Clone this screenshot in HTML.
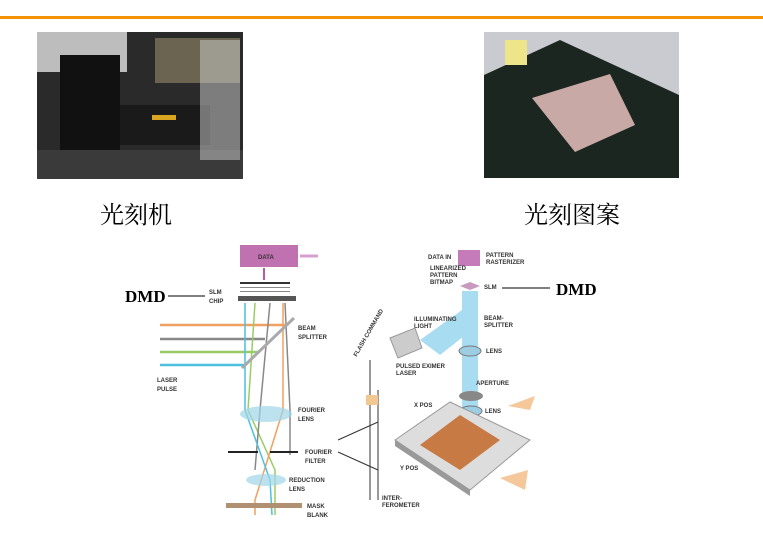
<!DOCTYPE html>
<html><head><meta charset="utf-8"><style>
html,body{margin:0;padding:0;background:#fff;width:763px;height:557px;overflow:hidden}
svg{display:block}
.t{font-family:"Liberation Sans",sans-serif;font-size:6px;font-weight:bold;fill:#333}
.c{font-family:"Liberation Serif","Noto Serif CJK SC",serif;font-size:24px;fill:#000}
.d{font-family:"Liberation Serif",serif;font-size:17px;font-weight:bold;fill:#000}
</style></head><body>
<svg width="763" height="557" viewBox="0 0 763 557" xmlns="http://www.w3.org/2000/svg">
<rect x="0" y="16" width="763" height="3" fill="#f39200"/>
<!-- left photo -->
<rect x="37" y="32" width="206" height="147" fill="#2a2a2a"/>
<rect x="37" y="32" width="90" height="40" fill="#bdbdbd"/>
<rect x="155" y="38" width="85" height="45" fill="#6b6450"/>
<rect x="60" y="55" width="60" height="110" fill="#111"/>
<rect x="120" y="105" width="90" height="40" fill="#1a1a1a"/>
<rect x="152" y="115" width="24" height="5" fill="#d9a520"/>
<rect x="37" y="150" width="206" height="29" fill="#3a3a3a"/>
<rect x="200" y="40" width="40" height="120" fill="#cfcfcf" opacity="0.5"/>
<!-- right photo -->
<rect x="484" y="32" width="195" height="146" fill="#c9cbd0"/>
<polygon points="484,75 560,40 679,95 679,178 484,178" fill="#1c2620"/>
<polygon points="532,98 610,74 635,125 575,152" fill="#c8a9a6"/>
<rect x="505" y="40" width="22" height="25" fill="#eee58a"/>
<text class="c" x="100" y="223">光刻机</text>
<text class="c" x="524" y="223">光刻图案</text>
<!-- left diagram -->
<rect x="240" y="245" width="58" height="22" fill="#c071b0"/>
<text class="t" x="258" y="259" fill="#fff">DATA</text>
<line x1="300" y1="256" x2="318" y2="256" stroke="#d7a0d0" stroke-width="3"/>
<line x1="264" y1="268" x2="264" y2="280" stroke="#b45aa8" stroke-width="2"/>
<rect x="240" y="282" width="50" height="2" fill="#333"/>
<rect x="240" y="287" width="50" height="1" fill="#888"/>
<rect x="240" y="291" width="50" height="1" fill="#888"/>
<rect x="238" y="296" width="58" height="5" fill="#555"/>
<text class="d" x="125" y="302">DMD</text>
<line x1="168" y1="296" x2="205" y2="296" stroke="#000" stroke-width="1"/>
<text class="t" x="209" y="294">SLM</text><text class="t" x="209" y="303">CHIP</text>
<g stroke-width="2.5">
<line x1="160" y1="325" x2="285" y2="325" stroke="#f0a060"/>
<line x1="160" y1="339" x2="265" y2="339" stroke="#888"/>
<line x1="160" y1="352" x2="258" y2="352" stroke="#9c6"/>
<line x1="160" y1="365" x2="245" y2="365" stroke="#4bc0e0"/>
</g>
<g stroke-width="1.5" fill="none">
<line x1="245" y1="303" x2="245" y2="365" stroke="#4bc0e0"/>
<path d="M255 303 L248 410 L275 470 L275 515" stroke="#9c6"/>
<path d="M270 303 L260 410 L255 470" stroke="#888"/>
<path d="M285 303 L290 410 L290 455" stroke="#888"/>
<path d="M283 303 L283 410 L255 500 L255 515" stroke="#f0a060"/>
<path d="M245 365 L245 410 L270 480 L272 515" stroke="#4bc0e0"/>
</g>
<line x1="242" y1="368" x2="294" y2="318" stroke="#aaa" stroke-width="3"/>
<text class="t" x="298" y="330">BEAM</text><text class="t" x="298" y="339">SPLITTER</text>
<text class="t" x="157" y="382">LASER</text><text class="t" x="157" y="391">PULSE</text>
<ellipse cx="266" cy="414" rx="26" ry="8" fill="#9fd6ea" opacity="0.7"/>
<text class="t" x="298" y="412">FOURIER</text><text class="t" x="298" y="421">LENS</text>
<rect x="228" y="451" width="30" height="2" fill="#222"/><rect x="270" y="451" width="28" height="2" fill="#222"/>
<text class="t" x="305" y="454">FOURIER</text><text class="t" x="305" y="463">FILTER</text>
<ellipse cx="266" cy="480" rx="20" ry="6" fill="#9fd6ea" opacity="0.7"/>
<text class="t" x="289" y="482">REDUCTION</text><text class="t" x="289" y="491">LENS</text>
<rect x="226" y="503" width="76" height="5" fill="#b09070"/>
<text class="t" x="307" y="508">MASK</text><text class="t" x="307" y="517">BLANK</text>
<line x1="338" y1="440" x2="378" y2="422" stroke="#333"/><line x1="338" y1="452" x2="378" y2="470" stroke="#333"/>
<!-- right diagram -->
<rect x="458" y="250" width="22" height="16" fill="#c57bba"/>
<text class="t" x="428" y="259">DATA IN</text>
<text class="t" x="486" y="257">PATTERN</text><text class="t" x="486" y="264">RASTERIZER</text>
<text class="t" x="430" y="270">LINEARIZED</text><text class="t" x="430" y="277">PATTERN</text><text class="t" x="430" y="284">BITMAP</text>
<text class="t" x="484" y="289">SLM</text>
<line x1="502" y1="288" x2="550" y2="288" stroke="#000"/>
<text class="d" x="556" y="295">DMD</text>
<polygon points="460,286 470,282 480,286 470,290" fill="#c89ac0"/>
<rect x="462" y="291" width="16" height="128" fill="#a8dcf0"/>
<polygon points="420,340 462,310 478,325 440,355" fill="#a8dcf0"/>
<text class="t" x="414" y="321">ILLUMINATING</text><text class="t" x="414" y="328">LIGHT</text>
<text class="t" x="484" y="320">BEAM-</text><text class="t" x="484" y="327">SPLITTER</text>
<ellipse cx="470" cy="351" rx="11" ry="5" fill="#9ccde2" stroke="#777"/>
<text class="t" x="486" y="353">LENS</text>
<polygon points="390,338 415,328 422,348 398,358" fill="#ccc" stroke="#999"/>
<text class="t" x="396" y="368">PULSED EXIMER</text><text class="t" x="396" y="375">LASER</text>
<ellipse cx="471" cy="396" rx="12" ry="5" fill="#888"/>
<text class="t" x="476" y="385">APERTURE</text>
<ellipse cx="471" cy="411" rx="11" ry="5" fill="#9ccde2" stroke="#777"/>
<text class="t" x="485" y="413">LENS</text>
<polygon points="395,440 450,402 530,440 470,490" fill="#ddd" stroke="#999"/>
<polygon points="420,445 460,415 500,440 460,470" fill="#c87a45"/>
<polygon points="395,440 470,490 470,496 395,446" fill="#999"/>
<polygon points="508,406 535,396 530,410" fill="#f4c89a"/>
<polygon points="500,478 528,470 525,490" fill="#f4c89a"/>
<text class="t" x="414" y="407">X POS</text><text class="t" x="400" y="470">Y POS</text>
<line x1="370" y1="360" x2="370" y2="500" stroke="#333"/><line x1="378" y1="390" x2="378" y2="500" stroke="#333"/>
<rect x="366" y="395" width="12" height="10" fill="#f0c890"/>
<text class="t" x="382" y="500">INTER-</text><text class="t" x="382" y="507">FEROMETER</text>
<text class="t" x="352" y="355" transform="rotate(-60 356 352)">FLASH COMMAND</text>
</svg>
</body></html>
